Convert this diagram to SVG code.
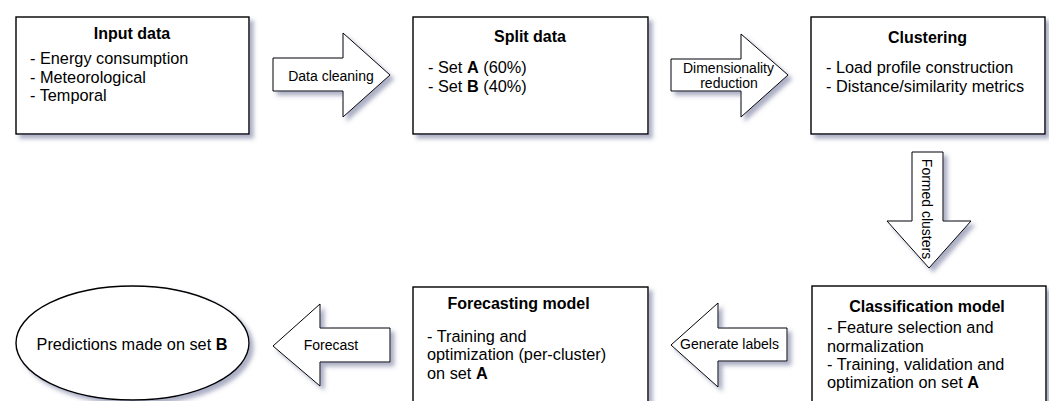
<svg xmlns="http://www.w3.org/2000/svg" width="1049" height="401" viewBox="0 0 1049 401">
<style>
.box{fill:#fff;stroke:#000;stroke-width:1.4;filter:url(#sh)}
.arr{fill:#fff;stroke:#000;stroke-width:1;stroke-linejoin:miter;filter:url(#sh)}
text{font-family:"Liberation Sans",Arial,sans-serif;fill:#000}
.t{font-size:16px;font-weight:bold;text-anchor:middle}
.i{font-size:16.3px}
.l{font-size:14px;text-anchor:middle}
.b{font-weight:bold}
</style>
<defs>
<filter id="sh" x="-10%" y="-10%" width="130%" height="130%">
<feDropShadow dx="4" dy="4" stdDeviation="2" flood-color="#5a6088" flood-opacity="0.5"/>
</filter>
</defs>
<rect width="1049" height="401" fill="#fff"/>
<g id="connectors">
<g id="data-cleaning">
<polygon class="arr" points="273,58 343,58 343,33 390,75 343,117 343,91 273,91"/>
<text class="l" x="331" y="81">Data cleaning</text>
</g>
<g id="dim-reduction">
<polygon class="arr" points="671,59 741,59 741,34 788,75 741,117 741,91 671,91"/>
<text class="l" x="728.5" y="72.5">Dimensionality</text>
<text class="l" x="729" y="87.5">reduction</text>
</g>
<g id="formed-clusters">
<polygon class="arr" points="912,152 943,152 943,221 971,221 929,268 887,221 912,221"/>
<text class="l" transform="translate(922,209) rotate(90)" x="0" y="0">Formed clusters</text>
</g>
<g id="generate-labels">
<polygon class="arr" points="787,328 718,328 718,303 671,345 718,387 718,361 787,361"/>
<text class="l" x="729.5" y="349">Generate labels</text>
</g>
<g id="forecast">
<polygon class="arr" points="390,328 320,328 320,304 273,346 320,386 320,362 390,362"/>
<text class="l" x="331" y="350">Forecast</text>
</g>
</g>
<g id="input-data">
<rect class="box" x="16" y="17" width="233" height="117"/>
<text class="t" x="132" y="39">Input data</text>
<text class="i" x="30" y="64">- Energy consumption</text>
<text class="i" x="30" y="82.5">- Meteorological</text>
<text class="i" x="30" y="101">- Temporal</text>
</g>
<g id="split-data">
<rect class="box" x="413" y="17" width="235" height="117"/>
<text class="t" x="530" y="42">Split data</text>
<text class="i" x="428" y="73">- Set <tspan class="b">A</tspan> (60%)</text>
<text class="i" x="428" y="91.5">- Set <tspan class="b">B</tspan> (40%)</text>
</g>
<g id="clustering">
<rect class="box" x="811" y="17" width="234" height="117"/>
<text class="t" x="927.5" y="43">Clustering</text>
<text class="i" x="826" y="73">- Load profile construction</text>
<text class="i" x="826" y="91.5">- Distance/similarity metrics</text>
</g>
<g id="classification-model">
<rect class="box" x="812" y="286" width="234" height="130"/>
<text class="t" x="927" y="312">Classification model</text>
<text class="i" x="827" y="333">- Feature selection and</text>
<text class="i" x="827" y="352">normalization</text>
<text class="i" x="827" y="370">- Training, validation and</text>
<text class="i" x="827" y="388">optimization on set <tspan class="b">A</tspan></text>
</g>
<g id="forecasting-model">
<rect class="box" x="413" y="287" width="235" height="130"/>
<text class="t" x="518.5" y="308.5">Forecasting model</text>
<text class="i" x="427" y="341.5">- Training and</text>
<text class="i" x="427" y="360">optimization (per-cluster)</text>
<text class="i" x="427" y="378.5">on set <tspan class="b">A</tspan></text>
</g>
<g id="predictions">
<ellipse class="box" cx="132.5" cy="343" rx="116.5" ry="57"/>
<text class="i" x="132" y="350" text-anchor="middle">Predictions made on set <tspan class="b">B</tspan></text>
</g>
</svg>
